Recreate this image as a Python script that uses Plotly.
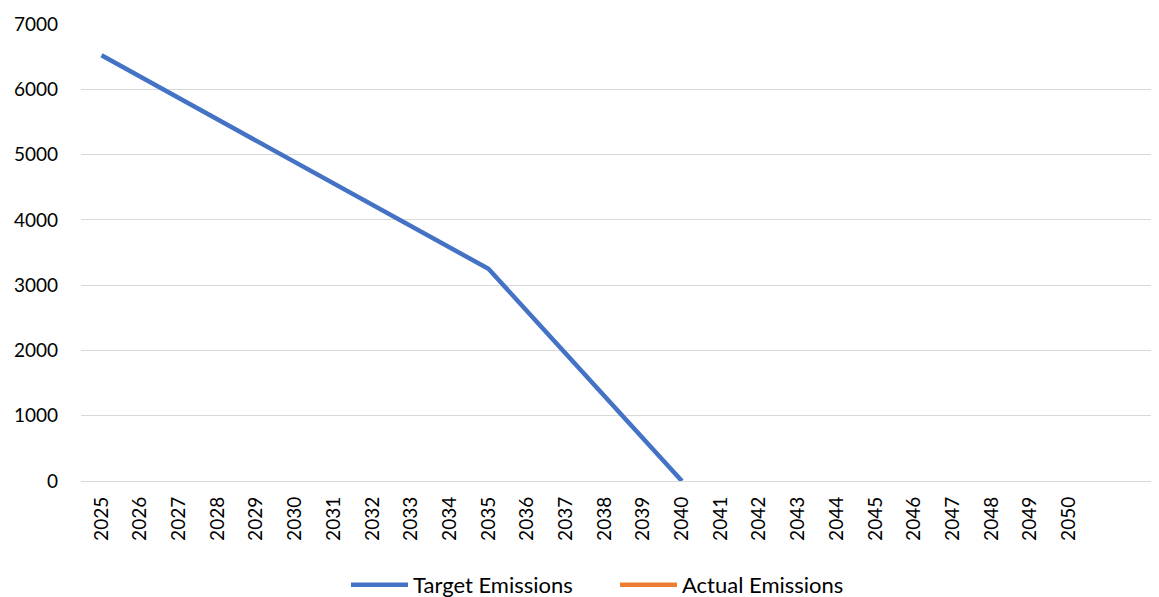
import plotly.graph_objects as go

years = [str(y) for y in range(2025, 2051)]
target_emissions = [6520, 6193, 5866, 5539, 5212, 4885, 4558, 4231, 3904, 3577, 3250,
                    2600, 1950, 1300, 650, 0,
                    None, None, None, None, None, None, None, None, None, None]
actual_emissions = [None] * len(years)
y_ticks = [0, 1000, 2000, 3000, 4000, 5000, 6000, 7000]

FONT = "Lato"

fig = go.Figure()
fig.add_trace(go.Scatter(x=years, y=target_emissions, mode="lines", name="Target Emissions",
                         line=dict(color="#4472C4", width=4.5)))
fig.add_trace(go.Scatter(x=years, y=actual_emissions, mode="lines", name="Actual Emissions",
                         line=dict(color="#ED7D31", width=4.5)))

fig.update_layout(
    width=1159, height=597,
    margin=dict(l=73, r=8, t=16, b=124, autoexpand=False),
    plot_bgcolor="white", paper_bgcolor="white",
    font=dict(family=FONT, size=19, color="#000000"),
    showlegend=True,
    legend=dict(orientation="h", xref="container", yref="container",
                x=0.5237, xanchor="center", y=0.0335, yanchor="middle",
                bgcolor="rgba(0,0,0,0)",
                font=dict(size=22, family=FONT), itemwidth=57,
                entrywidth=197, entrywidthmode="pixels"),
    xaxis=dict(type="category", categoryorder="array", categoryarray=years,
               range=[-0.53, 27.33], tickangle=-90, showgrid=False, automargin=False,
               showline=False, zeroline=False, ticks="", ticklabelstandoff=11,
               tickfont=dict(size=19, family=FONT)),
    yaxis=dict(range=[0, 7000], tickvals=y_ticks, showgrid=True, gridcolor="#D9D9D9",
               gridwidth=1.3, zeroline=True, zerolinecolor="#D9D9D9", zerolinewidth=1.3,
               showline=False, ticks="", ticklabelstandoff=22, automargin=False,
               tickfont=dict(size=19, family=FONT)),
)

fig.write_html("out.html")
